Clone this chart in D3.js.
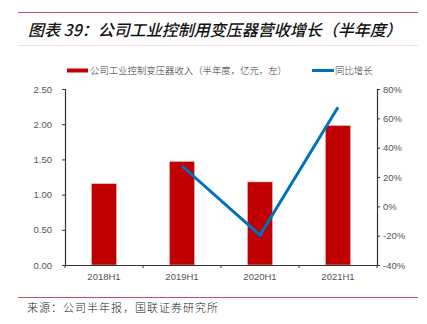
<!DOCTYPE html>
<html><head><meta charset="utf-8">
<script src="https://cdn.jsdelivr.net/npm/d3@7/dist/d3.min.js"></script>
<style>body{margin:0;background:#fff}svg{display:block}</style>
</head><body>
<script>
const categories = ["2018H1","2019H1","2020H1","2021H1"];
const revenue = [1.155, 1.47, 1.18, 1.98];
const growth = [null, 27.5, -19.7, 67.6];
const leftTicks = [0, 0.5, 1.0, 1.5, 2.0, 2.5];
const rightTicks = [-40, -20, 0, 20, 40, 60, 80];

const W = 427, H = 324;
const svg = d3.select("body").append("svg").attr("width", W).attr("height", H);
const cjk = "'Noto Sans CJK SC', sans-serif";
const lat = "'Liberation Sans', Arial, sans-serif";

// header lines
svg.append("line").attr("x1",18).attr("x2",418).attr("y1",12.5).attr("y2",12.5).attr("stroke","#c9505a").attr("stroke-width",1.2);
svg.append("line").attr("x1",18).attr("x2",418).attr("y1",45.5).attr("y2",45.5).attr("stroke","#f6dfe2").attr("stroke-width",1);
svg.append("text").attr("x",28).attr("y",36).attr("font-family",cjk).attr("font-size",16).attr("font-style","italic").attr("font-weight",500).attr("fill","#111")
  .text("图表 39：公司工业控制用变压器营收增长（半年度）");

const m = {l:65, r:377, t:89, b:265};
const x = d3.scaleBand().domain(categories).range([m.l, m.r]);
const yL = d3.scaleLinear().domain([0, 2.5]).range([m.b, m.t]);
const yR = d3.scaleLinear().domain([-40, 80]).range([m.b, m.t]);
const barW = 25;

// bars
svg.append("g").selectAll("rect").data(revenue).join("rect")
  .attr("x",(d,i)=>x(categories[i]) + x.bandwidth()/2 - barW/2)
  .attr("y",d=>yL(d)).attr("width",barW).attr("height",d=>yL(0)-yL(d))
  .attr("fill","#c00000").attr("stroke","#f2b6b6").attr("stroke-width",0.6);

// axes
const axisColor = "#333";
const gL = svg.append("g").attr("transform",`translate(${m.l},0)`)
  .call(d3.axisLeft(yL).tickValues(leftTicks).tickSize(3).tickPadding(10).tickFormat(d3.format(".2f")));
const gR = svg.append("g").attr("transform",`translate(${m.r},0)`)
  .call(d3.axisRight(yR).tickValues(rightTicks).tickSize(3).tickPadding(3).tickFormat(d=>d+"%"));
const gB = svg.append("g").attr("transform",`translate(0,${m.b})`)
  .call(d3.axisBottom(x).tickSize(0).tickPadding(8));
[gL,gR,gB].forEach(g=>{
  g.select(".domain").attr("stroke",axisColor).attr("stroke-width",1.2);
  g.selectAll(".tick line").attr("stroke",axisColor);
  g.selectAll("text").attr("font-family",lat).attr("font-size",9.5).attr("fill","#555");
});
// category separator ticks on bottom axis
const seps = categories.map(c=>x(c)).concat([m.r]);
gB.selectAll(".sep").data(seps).join("line").attr("class","sep")
  .attr("x1",d=>d).attr("x2",d=>d).attr("y1",0).attr("y2",3).attr("stroke",axisColor);

// line
const pts = growth.map((g,i)=>({g, c:categories[i]})).filter(p=>p.g!==null);
svg.append("path").datum(pts)
  .attr("d", d3.line().x(p=>x(p.c)+x.bandwidth()/2).y(p=>yR(p.g)))
  .attr("fill","none").attr("stroke","#0070c0").attr("stroke-width",3);

// legend
svg.append("rect").attr("x",67).attr("y",68.5).attr("width",21).attr("height",4).attr("fill","#c00000");
svg.append("text").attr("x",90).attr("y",74).attr("font-family",cjk).attr("font-size",9.4).attr("font-weight",300).attr("fill","#333")
  .text("公司工业控制变压器收入（半年度，亿元，左）");
svg.append("rect").attr("x",312).attr("y",69).attr("width",22).attr("height",3).attr("fill","#0070c0");
svg.append("text").attr("x",335).attr("y",74).attr("font-family",cjk).attr("font-size",9.4).attr("font-weight",300).attr("fill","#333")
  .text("同比增长");

// source
svg.append("line").attr("x1",18).attr("x2",418).attr("y1",297.5).attr("y2",297.5).attr("stroke","#c9505a").attr("stroke-width",1);
svg.append("text").attr("x",27).attr("y",312).attr("font-family",cjk).attr("font-size",11).attr("font-weight",300).attr("letter-spacing",1).attr("fill","#222")
  .text("来源：公司半年报，国联证券研究所");
</script>
</body></html>
